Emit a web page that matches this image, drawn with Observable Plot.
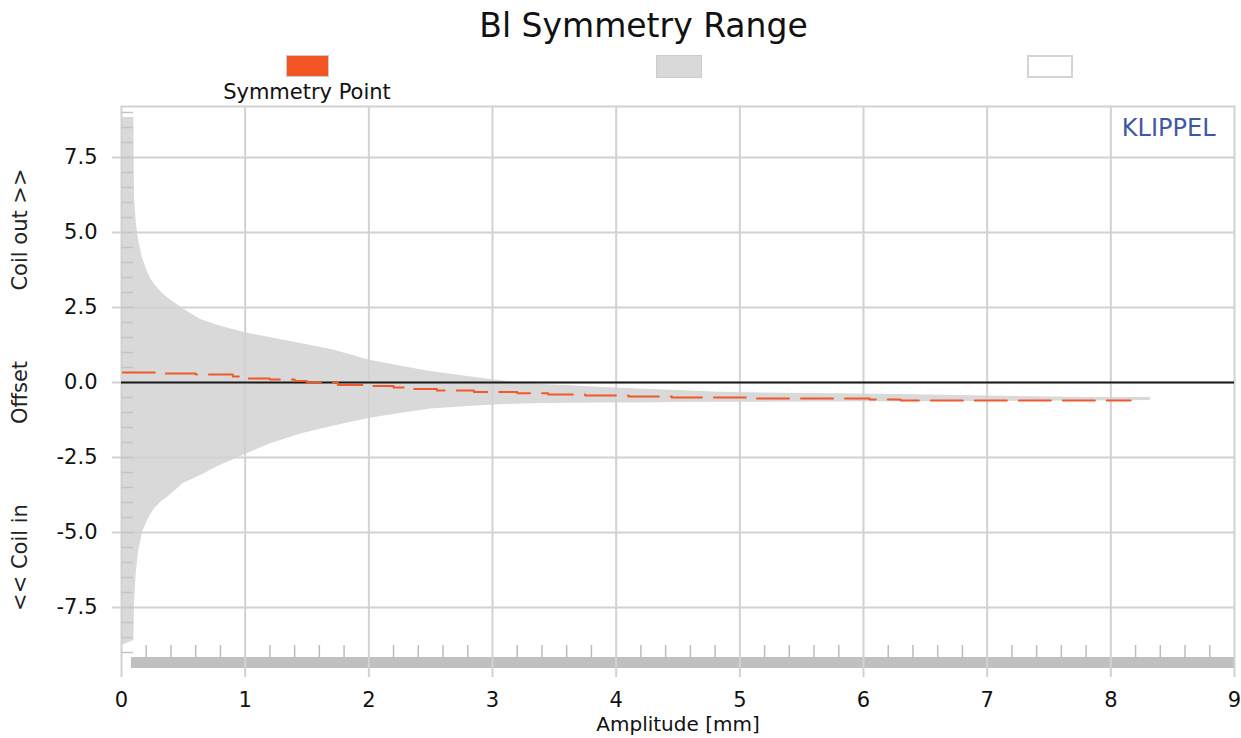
<!DOCTYPE html>
<html><head><meta charset="utf-8">
<script src="https://cdn.jsdelivr.net/npm/d3@7"></script>
<script src="https://cdn.jsdelivr.net/npm/@observablehq/plot@0.6"></script>
<style>
body{margin:0;background:#fff;}
#wrap{position:relative;width:1241px;height:738px;overflow:hidden;font-family:"DejaVu Sans",sans-serif;color:#111;}
#title{position:absolute;left:0;width:1287px;top:9px;text-align:center;font-size:33px;line-height:33px;}
.sw{position:absolute;box-sizing:border-box;}
.lab{position:absolute;width:240px;text-align:center;font-size:21px;line-height:21px;color:#111;}
#bar{position:absolute;left:131px;top:657px;width:1103px;height:11px;background:#c0c0c0;}
#chart{position:absolute;left:0;top:0;}
</style></head>
<body><div id="wrap">
<div id="bar"></div>
<div id="chart"></div>
<div id="title">Bl Symmetry Range</div>
</div>
<script>
// ---- data ----
const title = "Bl Symmetry Range";
const amplitude  = [0, 0.1, 0.105, 0.12, 0.14, 0.17, 0.2, 0.23, 0.27, 0.32, 0.37, 0.5, 0.64, 0.78, 1.0, 1.2, 1.45, 1.7, 2.0, 2.25, 2.5, 2.8, 3.05, 3.3, 3.6, 3.9, 4.2, 4.5, 4.9, 5.6, 6.3, 7.0, 7.8, 8.32];
const rangeUpper = [8.83, 8.83, 6.2, 5.3, 4.7, 4.15, 3.8, 3.5, 3.25, 3.02, 2.83, 2.45, 2.1, 1.9, 1.66, 1.5, 1.3, 1.1, 0.75, 0.55, 0.37, 0.2, 0.07, -0.05, -0.1, -0.17, -0.22, -0.27, -0.33, -0.37, -0.4, -0.45, -0.5, -0.5];
const rangeLower = [-8.77, -8.6, -7.4, -6.3, -5.6, -5.0, -4.7, -4.45, -4.2, -3.98, -3.83, -3.37, -3.1, -2.8, -2.4, -2.05, -1.72, -1.47, -1.2, -1.03, -0.88, -0.8, -0.74, -0.71, -0.69, -0.68, -0.68, -0.67, -0.66, -0.65, -0.64, -0.63, -0.62, -0.6];
const symAmplitude  = [0.01, 0.35, 0.6, 0.9, 1.0, 1.2, 1.4, 1.5, 1.75, 1.95, 2.2, 2.3, 2.55, 2.85, 3.2, 3.45, 3.75, 4.1, 4.45, 5.1, 6.05, 6.3, 8.16];
const symmetryPoint = [0.33, 0.3, 0.27, 0.2, 0.13, 0.1, 0.05, 0.0, -0.08, -0.12, -0.17, -0.22, -0.27, -0.32, -0.36, -0.4, -0.43, -0.47, -0.5, -0.53, -0.57, -0.6, -0.6];
const xTicks = [0, 1, 2, 3, 4, 5, 6, 7, 8, 9];
const yTicks = [-7.5, -5, -2.5, 0, 2.5, 5, 7.5];
const legendLabels = ["Symmetry Point", "", ""];
const legendColors = ["#f05523", "#d9d9d9", "#ffffff"];
const xLabel = "Amplitude [mm]";
const yLabels = ["Coil out >>", "Offset", "<< Coil in"];
const brand = "KLIPPEL";

// ---- tables ----
const band = amplitude.map((a, i) => ({a, hi: rangeUpper[i], lo: rangeLower[i]}));
const sym = symAmplitude.map((a, i) => ({a, v: symmetryPoint[i]}));
const minorX = d3.range(0, 45).map(i => i / 5).filter(v => v % 1 !== 0);
const minorY = d3.range(-18, 19).map(i => i / 2);

const grid = "#d2d2d2";
const chart = Plot.plot({
  width: 1241, height: 738,
  marginLeft: 121, marginRight: 7, marginTop: 106, marginBottom: 80,
  style: {fontFamily: "DejaVu Sans, sans-serif", fontSize: "21px", background: "transparent", color: "#111"},
  x: {domain: [0, 9], axis: null},
  y: {domain: [-9.2, 9.2], axis: null},
  marks: [
    Plot.areaY(band, {x: "a", y1: "lo", y2: "hi", fill: "#d9d9d9"}),
    Plot.frame({anchor: "top", stroke: grid, strokeWidth: 2}),
    Plot.gridY({ticks: yTicks, stroke: grid, strokeOpacity: 1, strokeWidth: 2}),
    Plot.gridX({ticks: xTicks, stroke: grid, strokeOpacity: 1, strokeWidth: 2}),
    Plot.axisY({ticks: minorY, tickSize: -12, fill: null, label: null, stroke: "#c4c4c4", strokeWidth: 1.5}),
    Plot.axisX({ticks: minorX, tickSize: -13, fill: null, label: null, stroke: "#bcbcbc", strokeWidth: 1.5}),
    Plot.axisX({ticks: xTicks, tickSize: 19, tickPadding: 15, tickFormat: d => String(d), stroke: grid, strokeWidth: 2, fill: "#111", fontSize: 21, label: null}),
    Plot.axisY({ticks: yTicks, tickSize: 9, tickPadding: 15, tickFormat: d => d.toFixed(1), stroke: grid, strokeWidth: 2, fill: "#111", fontSize: 21, label: null}),
    Plot.ruleY([0], {stroke: "#1a1a1a", strokeWidth: 2}),
    Plot.line(sym, {x: "a", y: "v", stroke: "#f0592a", strokeWidth: 2, strokeDasharray: "32,12", curve: "step-after"}),
    Plot.text([brand], {frameAnchor: "top-right", dx: -19, dy: 12, textAnchor: "end", lineAnchor: "top", fontSize: 24, fill: "#3f58a6"}),
    Plot.text([yLabels[0]], {frameAnchor: "left", dx: -101, dy: -153, rotate: -90, textAnchor: "middle", lineAnchor: "middle", fontSize: 21, fill: "#222"}),
    Plot.text([yLabels[1]], {frameAnchor: "left", dx: -101, dy: 10, rotate: -90, textAnchor: "middle", lineAnchor: "middle", fontSize: 21, fill: "#222"}),
    Plot.text([yLabels[2]], {frameAnchor: "left", dx: -101, dy: 175, rotate: -90, textAnchor: "middle", lineAnchor: "middle", fontSize: 21, fill: "#222"}),
    Plot.text([xLabel], {frameAnchor: "bottom", dy: 58, textAnchor: "middle", lineAnchor: "top", fontSize: 20, fill: "#111"})
  ]
});
document.getElementById("chart").appendChild(chart);
document.getElementById("title").textContent = title;

// ---- legend ----
const wrap = document.getElementById("wrap");
const swLeft = [286, 656, 1027];
legendLabels.forEach((lab, i) => {
  const s = document.createElement("div");
  s.className = "sw";
  s.style.left = swLeft[i] + "px"; s.style.top = "55px";
  s.style.width = (i === 0 ? 43 : 46) + "px"; s.style.height = (i === 0 ? 22 : 23) + "px";
  s.style.background = legendColors[i];
  s.style.border = i === 2 ? "2px solid #d4d4d4" : "1px solid #cccccc";
  wrap.appendChild(s);
  if (lab) {
    const t = document.createElement("div");
    t.className = "lab";
    t.textContent = lab;
    t.style.left = (swLeft[i] + 21 - 120) + "px"; t.style.top = "82px";
    wrap.appendChild(t);
  }
});
</script>
</body></html>
